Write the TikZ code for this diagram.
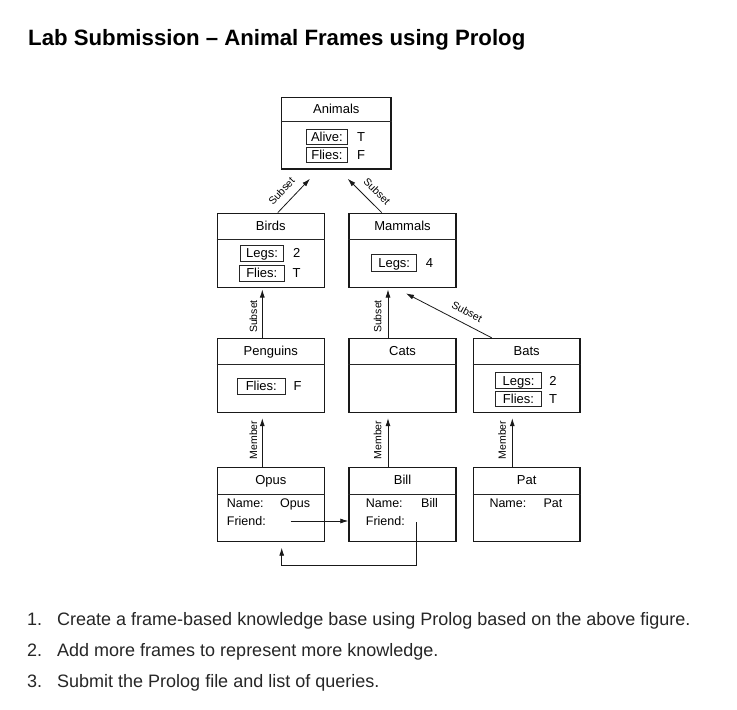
\documentclass[tikz,border=0pt]{standalone}
\usepackage{fontspec}
\setmainfont{Liberation Sans}
\usetikzlibrary{arrows.meta,calc}
\tikzset{
  framebox/.style={draw=black!90, line width=1.4pt, inner sep=0pt, minimum width=107, minimum height=74},
  ttl/.style={inner sep=0pt, text height=9.3pt, text depth=0pt, font=\fontsize{13}{15}\selectfont},
  slot/.style={draw=black!85, line width=0.8pt, inner sep=0pt, text height=9.3pt, text depth=0pt, minimum height=16, font=\fontsize{13}{15}\selectfont},
  val/.style={inner sep=0pt, text height=9.3pt, text depth=0pt, font=\fontsize{13}{15}\selectfont},
  fld/.style={inner sep=0pt, anchor=west, text height=9pt, text depth=0pt, font=\fontsize{12.5}{14}\selectfont},
  lnk/.style={draw=black!90, line width=0.8pt, -{Latex[length=8pt,width=5pt]}},
  lbl/.style={inner sep=0pt, text height=7.5pt, text depth=0pt, font=\fontsize{10.5}{12}\selectfont},
  divl/.style={draw=black!85, line width=0.8pt},
  listtxt/.style={inner sep=0pt, anchor=base west, text=black!85, font=\fontsize{18}{21}\selectfont}
}
\begin{document}
\begin{tikzpicture}[x=1pt,y=-1pt]
\useasboundingbox[fill=white] (0,0) rectangle (737,710);

% Title
\node[inner sep=0pt, anchor=base west, font=\bfseries\fontsize{22.2}{26}\selectfont] (title) at (28,45) {Lab Submission – Animal Frames using Prolog};

% Frames
\node[framebox, minimum width=109.3, minimum height=71.7] (animals) at (336.3,133.2) {};
\node[framebox] (birds) at (270.8,250.3) {};
\node[framebox] (mammals) at (402.5,250.3) {};
\node[framebox] (penguins) at (270.8,375.5) {};
\node[framebox] (cats) at (402.5,375.5) {};
\node[framebox, minimum width=106.7] (bats) at (526.7,375.5) {};
\node[framebox] (opus) at (270.8,504.5) {};
\node[framebox] (bill) at (402.5,504.5) {};
\node[framebox, minimum width=106.7] (pat) at (526.7,504.5) {};

% Dividers
\draw[divl] (animals.west |- 0,121.7) -- (animals.east |- 0,121.7);
\draw[divl] (birds.west |- 0,239.5) -- (birds.east |- 0,239.5);
\draw[divl] (mammals.west |- 0,239.5) -- (mammals.east |- 0,239.5);
\draw[divl] (penguins.west |- 0,364.3) -- (penguins.east |- 0,364.3);
\draw[divl] (cats.west |- 0,364.3) -- (cats.east |- 0,364.3);
\draw[divl] (bats.west |- 0,364.3) -- (bats.east |- 0,364.3);
\draw[divl] (opus.west |- 0,494) -- (opus.east |- 0,494);
\draw[divl] (bill.west |- 0,494) -- (bill.east |- 0,494);
\draw[divl] (pat.west |- 0,494) -- (pat.east |- 0,494);

% Frame titles
\node[ttl] (animalsT) at (336.3,108.5) {Animals};
\node[ttl] (birdsT) at (270.8,225.5) {Birds};
\node[ttl] (mammalsT) at (402.5,225.5) {Mammals};
\node[ttl] (penguinsT) at (270.8,350.5) {Penguins};
\node[ttl] (catsT) at (402.5,350.5) {Cats};
\node[ttl] (batsT) at (526.7,350.5) {Bats};
\node[ttl] (opusT) at (270.8,479.5) {Opus};
\node[ttl] (billT) at (402.5,479.5) {Bill};
\node[ttl] (patT) at (526.7,479.5) {Pat};

% Slots
\node[slot, minimum width=41.7, minimum height=15] (aAlive) at (326.9,136.5) {Alive:};
\node[val] (aAliveV) at (361,136.5) {T};
\node[slot, minimum width=41.7, minimum height=15] (aFlies) at (326.9,154.5) {Flies:};
\node[val] (aFliesV) at (361,154.5) {F};

\node[slot, minimum width=42.6] (bLegs) at (262,253.2) {Legs:};
\node[val] (bLegsV) at (296.7,253.2) {2};
\node[slot, minimum width=45, minimum height=15.3] (bFlies) at (261.8,273.3) {Flies:};
\node[val] (bFliesV) at (296.7,273.3) {T};

\node[slot, minimum width=45, minimum height=17.3] (mLegs) at (394.2,262.7) {Legs:};
\node[val] (mLegsV) at (429.5,262.7) {4};

\node[slot, minimum width=48, minimum height=15.7] (pFlies) at (261.3,386.2) {Flies:};
\node[val] (pFliesV) at (297.5,386.2) {F};

\node[slot, minimum width=46.4, minimum height=15.6] (btLegs) at (518.5,380.5) {Legs:};
\node[val] (btLegsV) at (553,380.5) {2};
\node[slot, minimum width=46.4, minimum height=15] (btFlies) at (518.5,398.5) {Flies:};
\node[val] (btFliesV) at (553,398.5) {T};

% Instance fields
\node[fld] (oName) at (226.7,503.3) {Name:};
\node[fld] (oNameV) at (280,503.3) {Opus};
\node[fld] (oFriend) at (226.7,521) {Friend:};
\node[fld] (bName) at (365.7,503.3) {Name:};
\node[fld] (bNameV) at (421,503.3) {Bill};
\node[fld] (bFriend) at (365.7,521) {Friend:};
\node[fld] (ptName) at (489.3,503.3) {Name:};
\node[fld] (ptNameV) at (543.3,503.3) {Pat};

% Subset links
\draw[lnk] ($(birds.north)+(7,0)$) -- ($(animals.south)+(-26.3,9)$);
\draw[lnk] ($(mammals.north)+(-20.8,0)$) -- ($(animals.south)+(11.4,9)$);
\draw[lnk] ($(penguins.north)+(-8.5,0)$) -- ($(birds.south)+(-8.5,1.5)$);
\draw[lnk] ($(cats.north)+(-14.5,0)$) -- ($(mammals.south)+(-14.5,1.5)$);
\draw[lnk] ($(bats.north)+(-35,0)$) -- ($(mammals.south)+(3.5,5.4)$);
\node[lbl, rotate=47] (l1) at (281.5,191) {Subset};
\node[lbl, rotate=-45] (l2) at (377,191.5) {Subset};
\node[lbl, rotate=90] (l3) at (253.3,316.5) {Subset};
\node[lbl, rotate=90] (l4) at (377.7,316.5) {Subset};
\node[lbl, rotate=-28] (l5) at (467,311.5) {Subset};

% Member links
\draw[lnk] ($(opus.north)+(-8.5,0)$) -- ($(penguins.south)+(-8.5,5)$);
\draw[lnk] ($(bill.north)+(-14.5,0)$) -- ($(cats.south)+(-14.5,5)$);
\draw[lnk] ($(pat.north)+(-14.4,0)$) -- ($(bats.south)+(-14.4,5)$);
\node[lbl, rotate=90] (m1) at (253.3,440) {Member};
\node[lbl, rotate=90] (m2) at (377.7,440) {Member};
\node[lbl, rotate=90] (m3) at (502,440) {Member};

% Friend links
\coordinate (f1s) at (290.7,521);
\draw[lnk] (f1s) -- (bill.west |- f1s);
\coordinate (f2s) at (416.7,522);
\coordinate (f2b) at (416.7,565);
\coordinate (f2c) at (281.7,565);
\draw[lnk] (f2s) -- (f2b) -- (f2c) -- ($(opus.south -| f2c)+(0,5.5)$);

% Task list
\node[listtxt] (n1) at (27,625) {1.};
\node[listtxt] (t1) at (57,625) {Create a frame-based knowledge base using Prolog based on the above figure.};
\node[listtxt] (n2) at (27,656) {2.};
\node[listtxt] (t2) at (57,656) {Add more frames to represent more knowledge.};
\node[listtxt] (n3) at (27,687) {3.};
\node[listtxt] (t3) at (57,687) {Submit the Prolog file and list of queries.};
\end{tikzpicture}
\end{document}
